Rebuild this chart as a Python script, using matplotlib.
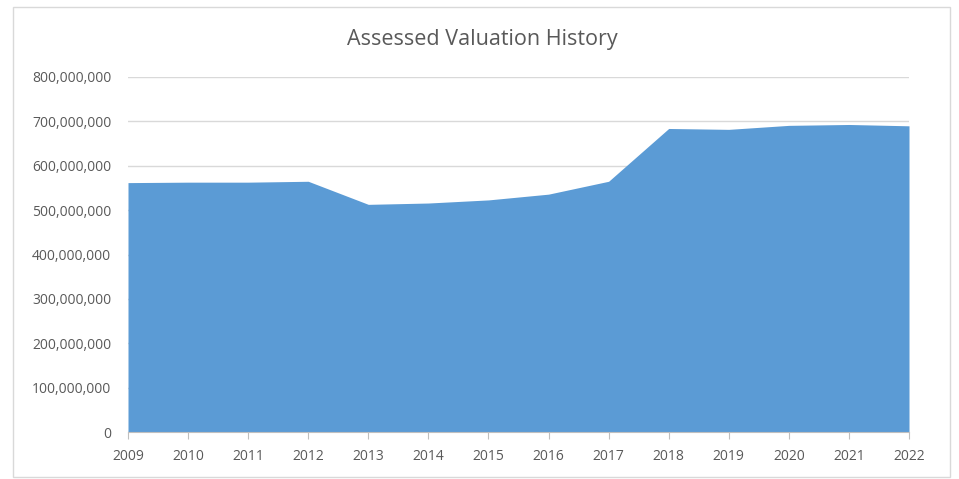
import matplotlib
matplotlib.use("Agg")
from matplotlib import pyplot as plt
from matplotlib.ticker import FuncFormatter
from matplotlib.patches import Rectangle

# data
years = [2009, 2010, 2011, 2012, 2013, 2014, 2015, 2016, 2017, 2018, 2019, 2020, 2021, 2022]
valuation = [562e6, 563e6, 563e6, 565e6, 513e6, 516e6, 523e6, 536e6, 565e6,
             684e6, 682e6, 691e6, 693e6, 690e6]
title = "Assessed Valuation History"

plt.rcParams['font.family'] = ['Open Sans', 'DejaVu Sans']

fig = plt.figure(figsize=(9.59, 4.79), dpi=100)
W, H = 959, 479

#Outer chart border
fig.patches.append(Rectangle((13 / W, 2 / H), 937 / W, 470 / H, transform=fig.transFigure,
                             fill=False, edgecolor='#d9d9d9', linewidth=1))

ax = fig.add_axes([128 / W, (H - 432) / H, (909 - 128) / W, (432 - 77) / H])
ax.fill_between(range(len(years)), valuation, 0, color='#5b9bd5', linewidth=0, zorder=2)

ax.set_xlim(0, len(years) - 1)
ax.set_ylim(0, 800e6)
ax.set_yticks([i * 100e6 for i in range(9)])
ax.yaxis.set_major_formatter(FuncFormatter(lambda v, p: f"{int(v):,}"))
ax.set_xticks(range(len(years)))
ax.set_xticklabels([str(y) for y in years])

ax.grid(axis='y', color='#d9d9d9', linewidth=1, zorder=0)
for s in ['top', 'right', 'left']:
    ax.spines[s].set_visible(False)
ax.spines['bottom'].set_color('#bfbfbf')
ax.tick_params(axis='y', length=0, labelsize=10, labelcolor='#595959', pad=12)
ax.tick_params(axis='x', length=5, color='#bfbfbf', labelsize=10, labelcolor='#595959', pad=7)

fig.text(482 / W, 1 - 39 / H, title, ha='center', va='center', fontsize=15.5, color='#595959')

fig.savefig("out.png", dpi=100)
